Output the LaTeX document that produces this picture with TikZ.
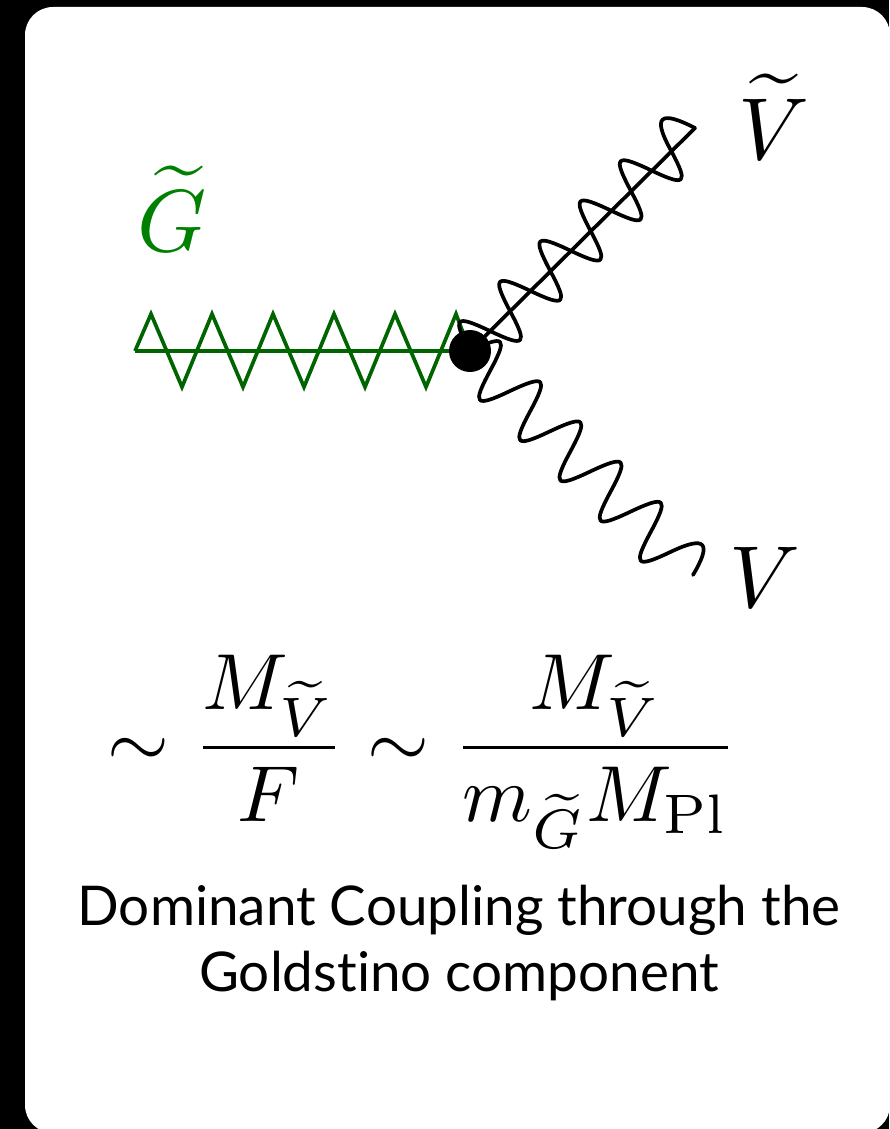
\documentclass[tikz,border=0pt]{standalone}
\usepackage{amsmath}
\usepackage[no-math]{fontspec}
\newfontfamily\capfont[Ligatures=NoCommon]{Lato}
\usepackage{xcolor}
\definecolor{gdark}{RGB}{0,100,0}
\definecolor{gtext}{RGB}{0,128,0}
\tikzset{
  wavy/.style={black,line width=3.7pt,line join=round,line cap=round},
  gravline/.style={gdark,line width=3.7pt,line join=miter},
  mathlbl/.style={inner sep=0pt,scale=8.8},
  fraclbl/.style={inner sep=0pt,scale=7.95,anchor=base},
  caption/.style={inner sep=0pt,align=center,font=\capfont\fontsize{54.8}{66}\selectfont}
}
\begin{document}
\begin{tikzpicture}[x=1pt,y=-1pt]
\useasboundingbox (0,0) rectangle (889,1129);
\fill[black] (0,0) rectangle (889,1129);
\fill[white,rounded corners=28pt] (25,7) rectangle (890,1133);
\node[circle,minimum size=42pt,inner sep=0pt] (blob) at (470,351) {};
\coordinate (gs) at (135,351);
\coordinate (ve) at (695,128);
\coordinate (pe) at (693,575);
% gravitino
\draw[gravline] (gs) -- (blob.center);
\draw[gravline] (gs) -- (151,314) \foreach \k in {0,...,4}{ -- ({182+61*\k},387) -- ({212+61*\k},314)} -- (470,351);
% gaugino
\draw[wavy] (blob.center) -- (ve);
\draw[wavy] (blob.center) \foreach \k in {0,...,4}{
  .. controls ({470+40.2*\k-18.2},{351-40.2*\k-33.8}) and ({490+40.2*\k-35.2},{331-40.2*\k-16.8}) .. ({490+40.2*\k},{331-40.2*\k})
  .. controls ({490+40.2*\k+35.2},{331-40.2*\k+16.8}) and ({510+40.2*\k+18.2},{311-40.2*\k+33.8}) .. ({510+40.2*\k},{311-40.2*\k})}
  .. controls (652,116) and (660,110) .. (ve);
% gauge boson
\draw[wavy] (blob.center) \foreach \k in {0,...,4}{
  .. controls ({470+40.2*\k+35.2},{351+40.2*\k-16.8}) and ({490+40.2*\k+18.2},{371+40.2*\k-33.8}) .. ({490+40.2*\k},{371+40.2*\k})
  .. controls ({490+40.2*\k-18.2},{371+40.2*\k+33.8}) and ({510+40.2*\k-35.2},{391+40.2*\k+16.8}) .. ({510+40.2*\k},{391+40.2*\k})}
  .. controls (706,535) and (712,543) .. (pe);
\node[circle,fill=black,minimum size=42pt,inner sep=0pt] at (blob.center) {};
% labels
\node[mathlbl,text=gtext] (lg) at (172,209) {$\widetilde{G}$};
\node[mathlbl] (lvt) at (774,117) {$\widetilde{V}$};
\node[mathlbl] (lv) at (765,577) {$V$};
\node[fraclbl] (s1) at (138,767) {$\sim$};
\node[fraclbl] (f1) at (269,767) {$\displaystyle\frac{M_{\widetilde{V}}}{F}$};
\node[fraclbl] (s2) at (398,767) {$\sim$};
\node[fraclbl] (f2) at (595.5,767) {$\displaystyle\frac{M_{\widetilde{V}}}{m_{\widetilde{G}}M_{\mathrm{Pl}}}$};
\node[caption] (cap) at (459,943) {Dominant Coupling through the\\Goldstino component};
\end{tikzpicture}
\end{document}
